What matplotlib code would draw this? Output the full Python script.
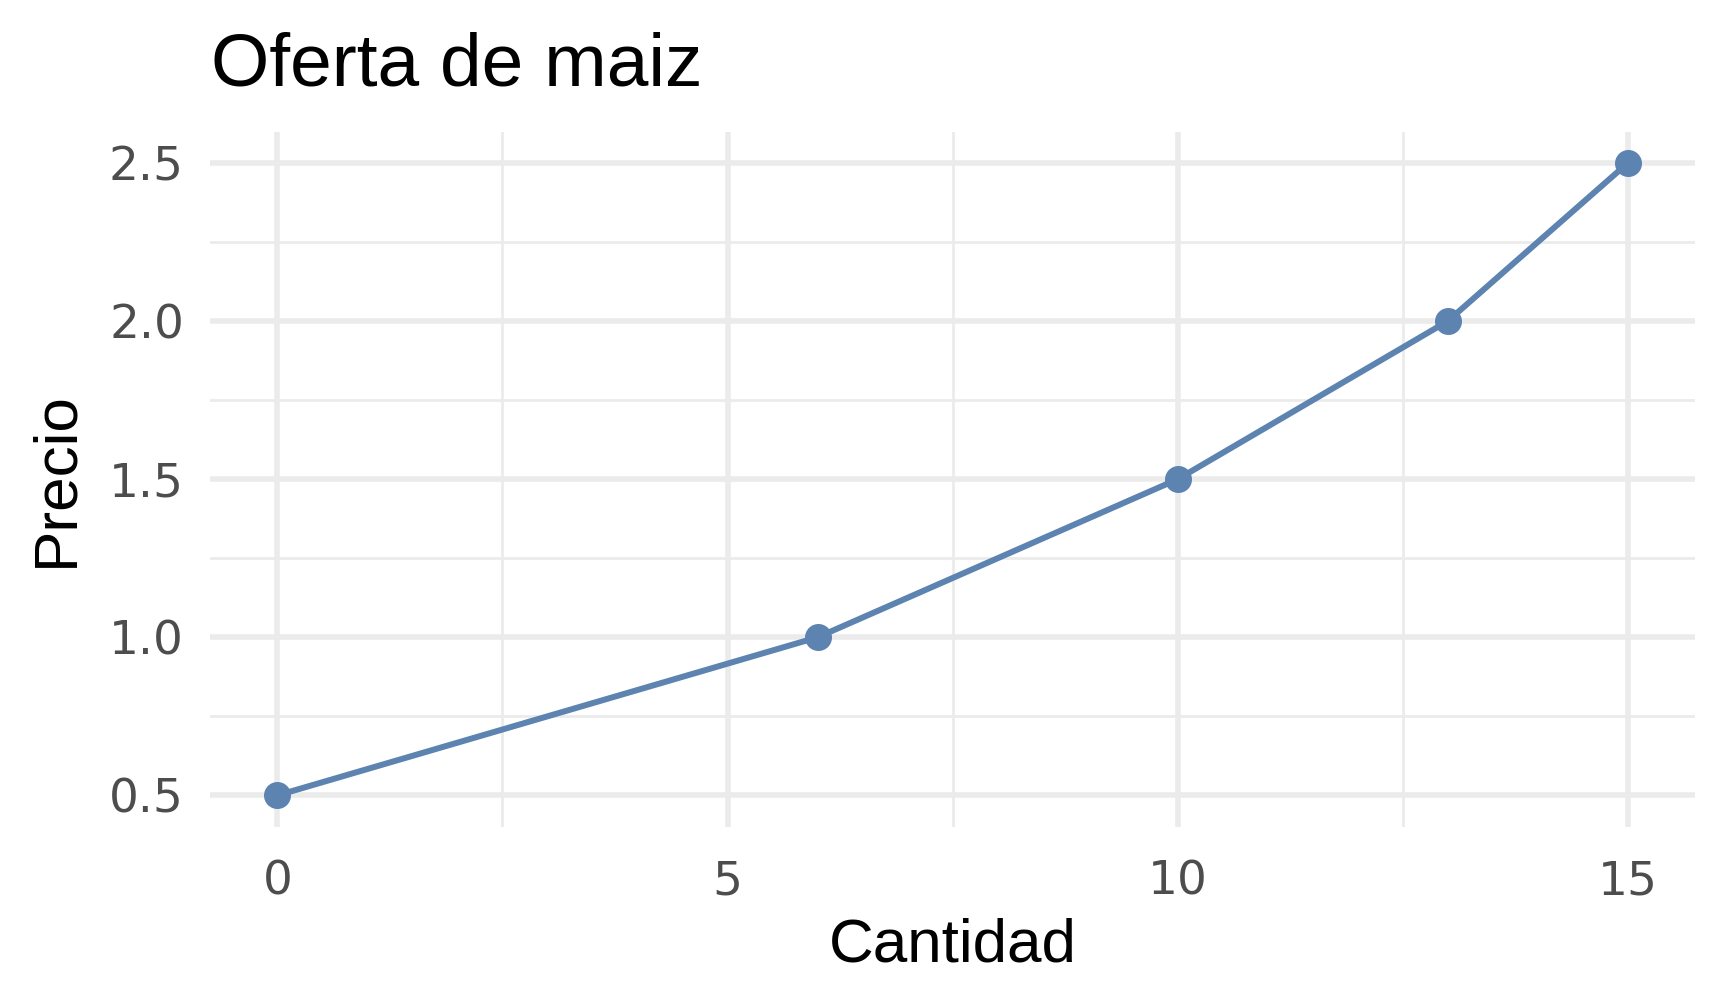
import matplotlib
matplotlib.use("Agg")
import matplotlib.pyplot as plt
from matplotlib.ticker import MultipleLocator

cantidad = [0, 6, 10, 13, 15]
precio = [0.5, 1.0, 1.5, 2.0, 2.5]
x_ticks = [0, 5, 10, 15]
y_ticks = [0.5, 1.0, 1.5, 2.0, 2.5]
y_tick_labels = ["0.5", "1.0", "1.5", "2.0", "2.5"]

plt.rcParams['font.family'] = ['Liberation Sans', 'DejaVu Sans']

fig = plt.figure(figsize=(12, 7), dpi=144)
ax = fig.add_axes([0.1215, 0.1796, 0.981 - 0.1215, 0.8695 - 0.1796])

color = "#5D83B0"
ax.plot(cantidad, precio, color=color, lw=3, zorder=3, solid_capstyle='butt')
ax.plot(cantidad, precio, 'o', color=color, ms=13.5, mec='none', zorder=4)

ax.set_xlim(-0.75, 15.75)
ax.set_ylim(0.4, 2.6)
ax.set_xticks(x_ticks)
ax.set_xticklabels([str(t) for t in x_ticks], family=['DejaVu Sans'])
ax.set_yticks(y_ticks)
ax.set_yticklabels(y_tick_labels, family=['DejaVu Sans'])
ax.xaxis.set_minor_locator(MultipleLocator(2.5))
ax.yaxis.set_minor_locator(MultipleLocator(0.25))

ax.grid(True, which='major', color='#EBEBEB', lw=2.75)
ax.grid(True, which='minor', color='#EBEBEB', lw=1.35)
ax.set_axisbelow(True)
for s in ax.spines.values():
    s.set_visible(False)
ax.tick_params(which='both', length=0)
ax.tick_params(axis='both', labelsize=23.5, labelcolor='#4D4D4D')
ax.tick_params(axis='y', pad=13)
ax.tick_params(axis='x', pad=16.5)

ax.set_xlabel("Cantidad", fontsize=31, color='black', labelpad=6.5)
ax.set_ylabel("Precio", fontsize=31, color='black', labelpad=12)
fig.text(211 / 1728, 1 - 86 / 1008, "Oferta de maiz", fontsize=37.5, ha='left', va='baseline', color='black')

fig.savefig("out.png", dpi=144)
